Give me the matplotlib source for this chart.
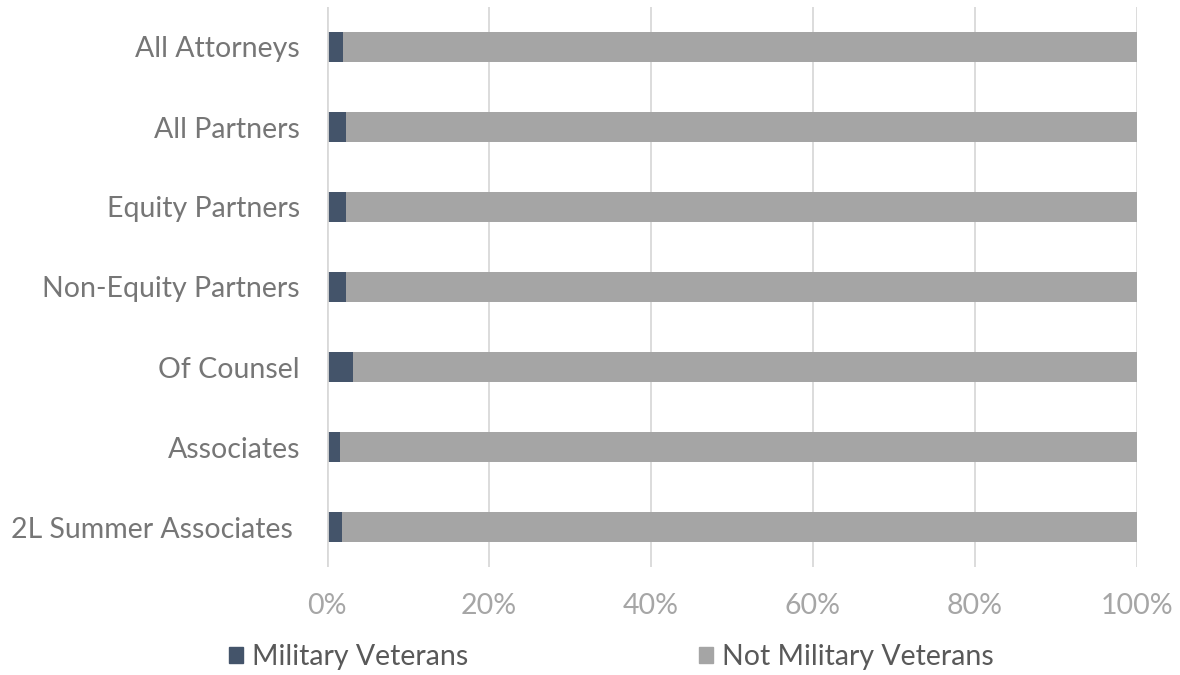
import matplotlib.pyplot as plt
import numpy as np
from matplotlib.patches import Patch

categories = ['All Attorneys', 'All Partners', 'Equity Partners', 'Non-Equity Partners',
              'Of Counsel', 'Associates', '2L Summer Associates ']
veterans = [2.0, 2.3, 2.3, 2.3, 3.2, 1.6, 1.85]
not_veterans = [100 - v for v in veterans]
tick_vals = [0, 20, 40, 60, 80, 100]
tick_labels = ['0%', '20%', '40%', '60%', '80%', '100%']

dark = '#44546A'
light = '#A5A5A5'

plt.rcParams['font.family'] = ['Lato', 'DejaVu Sans']

fig = plt.figure(figsize=(11.8, 6.75), dpi=100)
ax = fig.add_axes([327 / 1180, 1 - 567 / 675, 810 / 1180, 560 / 675])

y = np.arange(len(categories))
ax.barh(y, veterans, height=0.38, color=dark, zorder=3)
ax.barh(y, not_veterans, left=veterans, height=0.38, color=light, zorder=3)

ax.set_xlim(0, 100)
ax.set_ylim(len(categories) - 0.5, -0.5)
ax.set_yticks(y)
ax.set_yticklabels(categories, fontsize=20.5, color='#767676')
ax.set_xticks(tick_vals)
ax.set_xticklabels(tick_labels, fontsize=20.5, color='#A6A6A6')
ax.tick_params(axis='both', length=0)
ax.tick_params(axis='y', pad=19.5)
ax.tick_params(axis='x', pad=19)

ax.grid(axis='x', color='#D9D9D9', linewidth=1.3, zorder=0)
ax.axvline(0, color='#D9D9D9', linewidth=2, zorder=4)
for s in ax.spines.values():
    s.set_visible(False)

handles = [Patch(color=dark, label='Military Veterans'),
           Patch(color=light, label='Not Military Veterans')]
fig.legend(handles=handles, loc='center', bbox_to_anchor=(0.518, 1 - 657 / 675), ncol=2,
           frameon=False, fontsize=20.5, labelcolor='#595959', handlelength=0.5,
           handleheight=0.5, handletextpad=0.3, columnspacing=8.1)

fig.savefig('out.png', dpi=100)
